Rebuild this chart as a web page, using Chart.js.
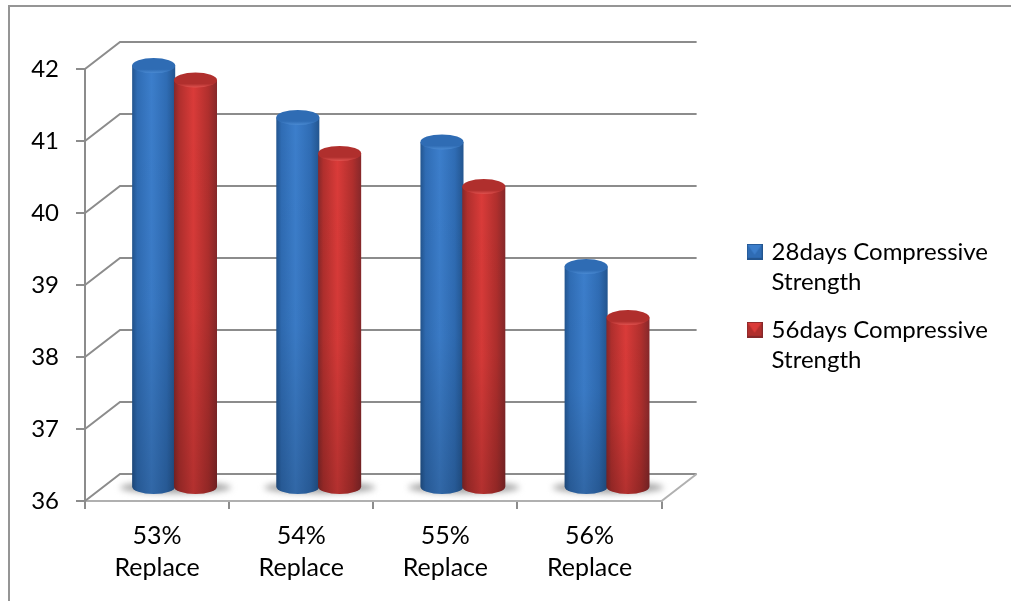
<!DOCTYPE html>
<html>
<head>
<meta charset="utf-8">
<title>Compressive Strength</title>
<script src="https://cdn.jsdelivr.net/npm/chart.js@4"></script>
<style>
	html, body { margin: 0; padding: 0; background: #fff; overflow: hidden; }
	#wrap { position: absolute; left: 0; top: 0; width: 1011px; height: 601px; }
	#wrap:before { content: ""; position: absolute; left: 8px; top: 5px; right: 0; bottom: 0;
		border-left: 2px solid #959595; border-top: 2px solid #959595; }
</style>
</head>
<body>
<div id="wrap"><canvas id="chart" width="1011" height="601"></canvas></div>
<script>
var categories = [["53%", "Replace"], ["54%", "Replace"], ["55%", "Replace"], ["56%", "Replace"]];
var series_names = [["28days Compressive", "Strength"], ["56days Compressive", "Strength"]];
var strength_28 = [41.86, 41.14, 40.80, 39.07];
var strength_56 = [41.66, 40.64, 40.18, 38.36];
var y_ticks = [36, 37, 38, 39, 40, 41, 42];

var font_name = "Lato";
var line_gray = "#8c8c8c";
var depth_x = 35, depth_y = 27;	// depth of the floor and walls

// edge, middle and cap colours of the two cylinders
var blue = {edge: "#23558f", mid: "#3c7ecb", cap: "#2f6cb4", rim: "#4a8ad2"};
var red = {edge: "#86282a", mid: "#da3b39", cap: "#b02f2d", rim: "#e0524f"};

function make_legend_icon(c){
	var s = 16, icon = document.createElement("canvas");
	icon.width = s; icon.height = s;
	var g = icon.getContext("2d");
	g.fillStyle = c.cap;
	g.fillRect(0, 0, s, s);
	g.fillStyle = c.mid;
	g.beginPath(); g.moveTo(1, 1); g.lineTo(s - 1, 1); g.lineTo(s / 2, s / 2 + 3); g.closePath(); g.fill();
	g.fillStyle = c.edge;
	g.fillRect(0, s - 2, s, 2);
	g.strokeStyle = c.edge;
	g.strokeRect(0.5, 0.5, s - 1, s - 1);
	return icon;
}

// back wall lines and the floor, drawn behind the bars
var wall_plugin = {
	id: "wall",
	beforeDatasetsDraw: function(chart){
		var ctx = chart.ctx, a = chart.chartArea, y = chart.scales.y;
		ctx.save();
		ctx.strokeStyle = line_gray;
		ctx.lineWidth = 2;
		y_ticks.forEach(function(v){
			var py = y.getPixelForValue(v);
			ctx.beginPath();
			ctx.moveTo(a.left, py);
			ctx.lineTo(a.left + depth_x, py - depth_y);
			ctx.lineTo(a.right + depth_x, py - depth_y);
			ctx.stroke();
		});
		var base = y.getPixelForValue(y_ticks[0]);
		ctx.strokeStyle = "#b0b0b0";
		ctx.beginPath();
		ctx.moveTo(a.right, base);
		ctx.lineTo(a.right + depth_x, base - depth_y);
		ctx.stroke();
		ctx.restore();
	}
};

function draw_cylinder(ctx, bar, c){
	var w = bar.width, left = bar.x - w / 2 + depth_x / 2, right = left + w;
	var cx = left + w / 2, ry = 7.5;
	var top = bar.y - depth_y / 2, bottom = bar.base - depth_y / 2;

	var body = ctx.createLinearGradient(left, 0, right, 0);
	body.addColorStop(0, c.edge);
	body.addColorStop(0.12, c.cap);
	body.addColorStop(0.45, c.mid);
	body.addColorStop(0.8, c.cap);
	body.addColorStop(1, c.edge);
	ctx.fillStyle = body;
	ctx.beginPath();
	ctx.moveTo(left, top);
	ctx.lineTo(left, bottom);
	ctx.ellipse(cx, bottom, w / 2, ry, 0, Math.PI, 0, true);
	ctx.lineTo(right, top);
	ctx.closePath();
	ctx.fill();

	// the lower part of the cylinder falls into shade
	var shade = ctx.createLinearGradient(0, top, 0, bottom + ry);
	shade.addColorStop(0, "rgba(0,0,0,0)");
	shade.addColorStop(0.55, "rgba(0,0,0,0.03)");
	shade.addColorStop(1, "rgba(0,0,0,0.18)");
	ctx.fillStyle = shade;
	ctx.fill();

	var cap = ctx.createLinearGradient(0, top - ry, 0, top + ry);
	cap.addColorStop(0, c.cap);
	cap.addColorStop(0.75, c.cap);
	cap.addColorStop(1, c.rim);
	ctx.fillStyle = cap;
	ctx.beginPath();
	ctx.ellipse(cx, top, w / 2, ry, 0, 0, Math.PI * 2);
	ctx.fill();
}

// soft floor shadows first, then the cylinders of each series from the library's bar elements
var cylinder_plugin = {
	id: "cylinder",
	beforeDatasetsDraw: function(chart){
		var ctx = chart.ctx;
		chart.getDatasetMeta(1).data.forEach(function(bar, i){
			var first = chart.getDatasetMeta(0).data[i];
			var left = first.x - first.width / 2 + depth_x / 2 - 12;
			var right = bar.x + bar.width / 2 + depth_x / 2 + 14;
			ctx.save();
			ctx.filter = "blur(3px)";
			ctx.fillStyle = "#a4a4a4";
			ctx.beginPath();
			ctx.ellipse((left + right) / 2, bar.base - depth_y / 2 + 1, (right - left) / 2, 6, 0, 0, Math.PI * 2);
			ctx.fill();
			ctx.restore();
		});
	},
	afterDatasetsDraw: function(chart){
		var ctx = chart.ctx;
		[blue, red].forEach(function(c, n){
			chart.getDatasetMeta(n).data.forEach(function(bar){
				draw_cylinder(ctx, bar, c);
			});
		});
	}
};

new Chart(document.getElementById("chart").getContext("2d"), {
	type: "bar",
	data: {
		labels: categories,
		datasets: [
			{label: series_names[0], data: strength_28, base: 36, backgroundColor: "rgba(0,0,0,0)", pointStyle: make_legend_icon(blue)},
			{label: series_names[1], data: strength_56, base: 36, backgroundColor: "rgba(0,0,0,0)", pointStyle: make_legend_icon(red)}
		]
	},
	options: {
		responsive: false,
		animation: false,
		datasets: {bar: {barPercentage: 1.03, categoryPercentage: 0.58}},
		layout: {padding: {left: 0, right: 13, top: 69, bottom: 0}},
		scales: {
			x: {
				border: {color: "#b0b0b0", width: 2},
				grid: {drawOnChartArea: false, color: line_gray, lineWidth: 2, tickLength: 8},
				ticks: {color: "#000", font: {family: font_name, size: 25, lineHeight: 1.28}, maxRotation: 0, padding: 11},
				afterFit: function(scale){ scale.height = 100; }
			},
			y: {
				min: 36, max: 42,
				afterBuildTicks: function(scale){
					scale.ticks = y_ticks.map(function(v){ return {value: v}; });
				},
				border: {color: line_gray, width: 2},
				grid: {drawOnChartArea: false, color: line_gray, lineWidth: 2, tickLength: 9},
				ticks: {color: "#000", font: {family: font_name, size: 24}, padding: 17},
				afterFit: function(scale){ scale.width = 85; }
			},
			// empty axis that keeps room for the wall depth between the plot and the legend
			depth: {
				position: "right",
				grid: {display: false},
				border: {display: false},
				ticks: {display: false},
				afterFit: function(scale){ scale.width = 70; }
			}
		},
		plugins: {
			title: {display: false},
			tooltip: {enabled: false},
			legend: {
				position: "right",
				align: "center",
				fullSize: false,
				maxWidth: 300,
				// blank title pushes the entries down from the middle of the plot
				title: {display: true, text: " ", padding: 13, font: {family: font_name, size: 18}},
				labels: {
					color: "#000",
					font: {family: font_name, size: 24, lineHeight: 1.25},
					usePointStyle: true,
					pointStyleWidth: 10,
					boxHeight: 16,
					padding: 18
				}
			}
		}
	},
	plugins: [wall_plugin, cylinder_plugin]
});
</script>
</body>
</html>
